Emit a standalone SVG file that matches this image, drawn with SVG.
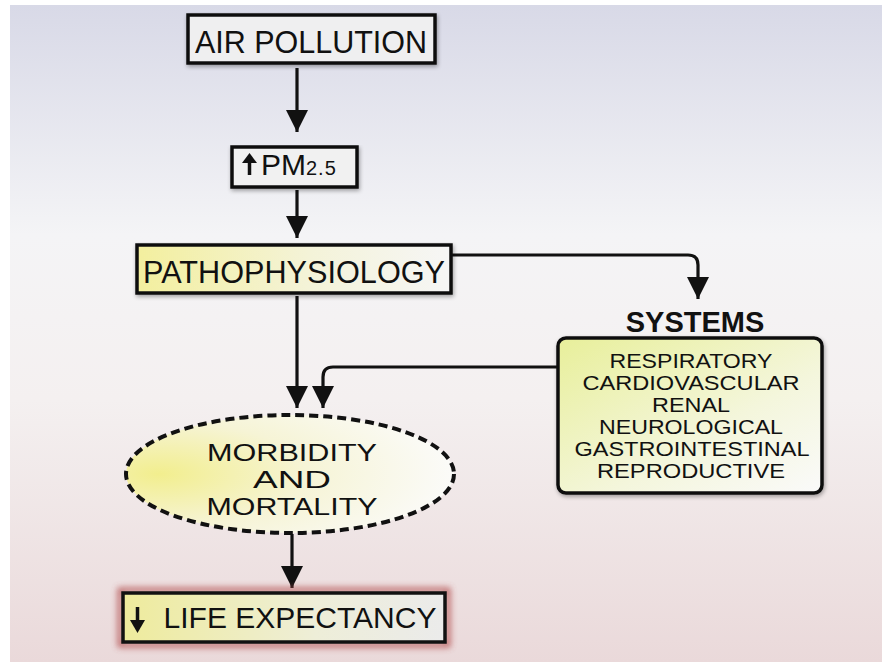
<svg xmlns="http://www.w3.org/2000/svg" width="882" height="662" viewBox="0 0 882 662">
  <defs>
    <linearGradient id="bg" x1="0" y1="0" x2="0" y2="1">
      <stop offset="0" stop-color="#d8d9e7"/>
      <stop offset="0.35" stop-color="#f4f4f6"/>
      <stop offset="0.6" stop-color="#f4f0f0"/>
      <stop offset="1" stop-color="#ead9da"/>
    </linearGradient>
    <linearGradient id="yellowH" x1="0" y1="0" x2="1" y2="0">
      <stop offset="0" stop-color="#f3ef9e"/>
      <stop offset="0.55" stop-color="#f4f3d8"/>
      <stop offset="1" stop-color="#f6f6f6"/>
    </linearGradient>
    <linearGradient id="yellowD" x1="0" y1="0" x2="1" y2="1">
      <stop offset="0" stop-color="#e8ef9a"/>
      <stop offset="0.6" stop-color="#f4f6dc"/>
      <stop offset="1" stop-color="#fafafa"/>
    </linearGradient>
    <radialGradient id="yellowR" cx="0.1" cy="0.5" r="0.9">
      <stop offset="0" stop-color="#f2ee8e"/>
      <stop offset="0.5" stop-color="#f6f4d6"/>
      <stop offset="1" stop-color="#fbfbf9"/>
    </radialGradient>
    <linearGradient id="lifeFill" x1="0" y1="0" x2="1" y2="0">
      <stop offset="0" stop-color="#eeeb9c"/>
      <stop offset="0.6" stop-color="#eeeed8"/>
      <stop offset="1" stop-color="#ebebeb"/>
    </linearGradient>
    <filter id="shadow" x="-10%" y="-10%" width="120%" height="130%">
      <feGaussianBlur in="SourceAlpha" stdDeviation="2"/>
      <feOffset dx="1" dy="2"/>
      <feComponentTransfer><feFuncA type="linear" slope="0.35"/></feComponentTransfer>
      <feMerge><feMergeNode/><feMergeNode in="SourceGraphic"/></feMerge>
    </filter>
    <filter id="redglow" x="-10%" y="-30%" width="120%" height="160%">
      <feGaussianBlur stdDeviation="3"/>
    </filter>
    <marker id="ah" markerUnits="userSpaceOnUse" markerWidth="22" markerHeight="22" refX="22" refY="11" orient="auto">
      <path d="M0,0 L22,11 L0,22 z" fill="#111"/>
    </marker>
  </defs>
  <style>
    .box { stroke:#111; stroke-width:3.5; }
    .lbl { font-family:"Liberation Sans", Arial, sans-serif; fill:#111; text-anchor:middle; }
    .conn { fill:none; stroke:#111; stroke-width:3.2; marker-end:url(#ah); }
  </style>

  <rect x="0" y="0" width="882" height="662" fill="#ffffff"/>
  <rect x="10" y="5" width="872" height="657" fill="url(#bg)"/>

  <g id="connectors">
    <path class="conn" d="M297,68 L297,132"/>
    <path class="conn" d="M297,190 L297,238"/>
    <path class="conn" d="M452,255 L688,255 Q698,255 698,265 L698,299"/>
    <path class="conn" d="M297,296 L297,408"/>
    <path class="conn" d="M558,367 L333,367 Q323,367 323,377 L323,408"/>
    <path class="conn" d="M292,534 L292,588"/>
  </g>

  <g id="air-pollution">
    <rect class="box" x="188" y="15" width="247" height="48" fill="#efeff0" filter="url(#shadow)"/>
    <text class="lbl" x="311" y="53" font-size="30.5">AIR POLLUTION</text>
  </g>

  <g id="pm25">
    <rect class="box" x="232" y="147" width="125" height="40" fill="#f1f1f1" filter="url(#shadow)"/>
    <path d="M249.5,175 L249.5,161" stroke="#111" stroke-width="3.5" fill="none"/>
    <path d="M242,163 L249.5,153 L257,163 z" fill="#111"/>
    <text x="261" y="175" font-family="&quot;Liberation Sans&quot;, Arial, sans-serif" font-size="30" fill="#111">PM<tspan font-size="20" letter-spacing="1">2.5</tspan></text>
  </g>

  <g id="pathophysiology">
    <rect class="box" x="137" y="245" width="314" height="48" fill="url(#yellowH)" filter="url(#shadow)"/>
    <text class="lbl" x="294" y="283" font-size="31.5" textLength="302" lengthAdjust="spacingAndGlyphs">PATHOPHYSIOLOGY</text>
  </g>

  <g id="systems">
    <text class="lbl" x="695" y="332" font-size="29" font-weight="bold">SYSTEMS</text>
    <rect class="box" x="558" y="338" width="264" height="155" rx="8" ry="8" fill="url(#yellowD)" filter="url(#shadow)"/>
    <g class="lbl" font-size="19.5">
      <text x="691" y="368" textLength="163" lengthAdjust="spacingAndGlyphs">RESPIRATORY</text>
      <text x="691" y="390" textLength="217" lengthAdjust="spacingAndGlyphs">CARDIOVASCULAR</text>
      <text x="691" y="412" textLength="78" lengthAdjust="spacingAndGlyphs">RENAL</text>
      <text x="691" y="434" textLength="184" lengthAdjust="spacingAndGlyphs">NEUROLOGICAL</text>
      <text x="692" y="456" textLength="235" lengthAdjust="spacingAndGlyphs">GASTROINTESTINAL</text>
      <text x="691" y="478" textLength="188" lengthAdjust="spacingAndGlyphs">REPRODUCTIVE</text>
    </g>
  </g>

  <g id="morbidity-mortality">
    <ellipse cx="290" cy="474" rx="164" ry="59" fill="url(#yellowR)" stroke="#111" stroke-width="4" stroke-dasharray="9 5"/>
    <g class="lbl" font-size="24">
      <text x="292" y="461" textLength="170" lengthAdjust="spacingAndGlyphs">MORBIDITY</text>
      <text x="292" y="488" textLength="78" lengthAdjust="spacingAndGlyphs">AND</text>
      <text x="292" y="515" textLength="171" lengthAdjust="spacingAndGlyphs">MORTALITY</text>
    </g>
  </g>

  <g id="life-expectancy">
    <rect x="120" y="590" width="328" height="55" fill="none" stroke="#b04848" stroke-width="5" filter="url(#redglow)" opacity="0.8"/>
    <rect class="box" x="123" y="593" width="322" height="49" fill="url(#lifeFill)"/>
    <path d="M137.5,607 L137.5,622" stroke="#111" stroke-width="3.5" fill="none"/>
    <path d="M130,620 L137.5,633 L145,620 z" fill="#111"/>
    <text class="lbl" x="300" y="628" font-size="30">LIFE EXPECTANCY</text>
  </g>
</svg>
